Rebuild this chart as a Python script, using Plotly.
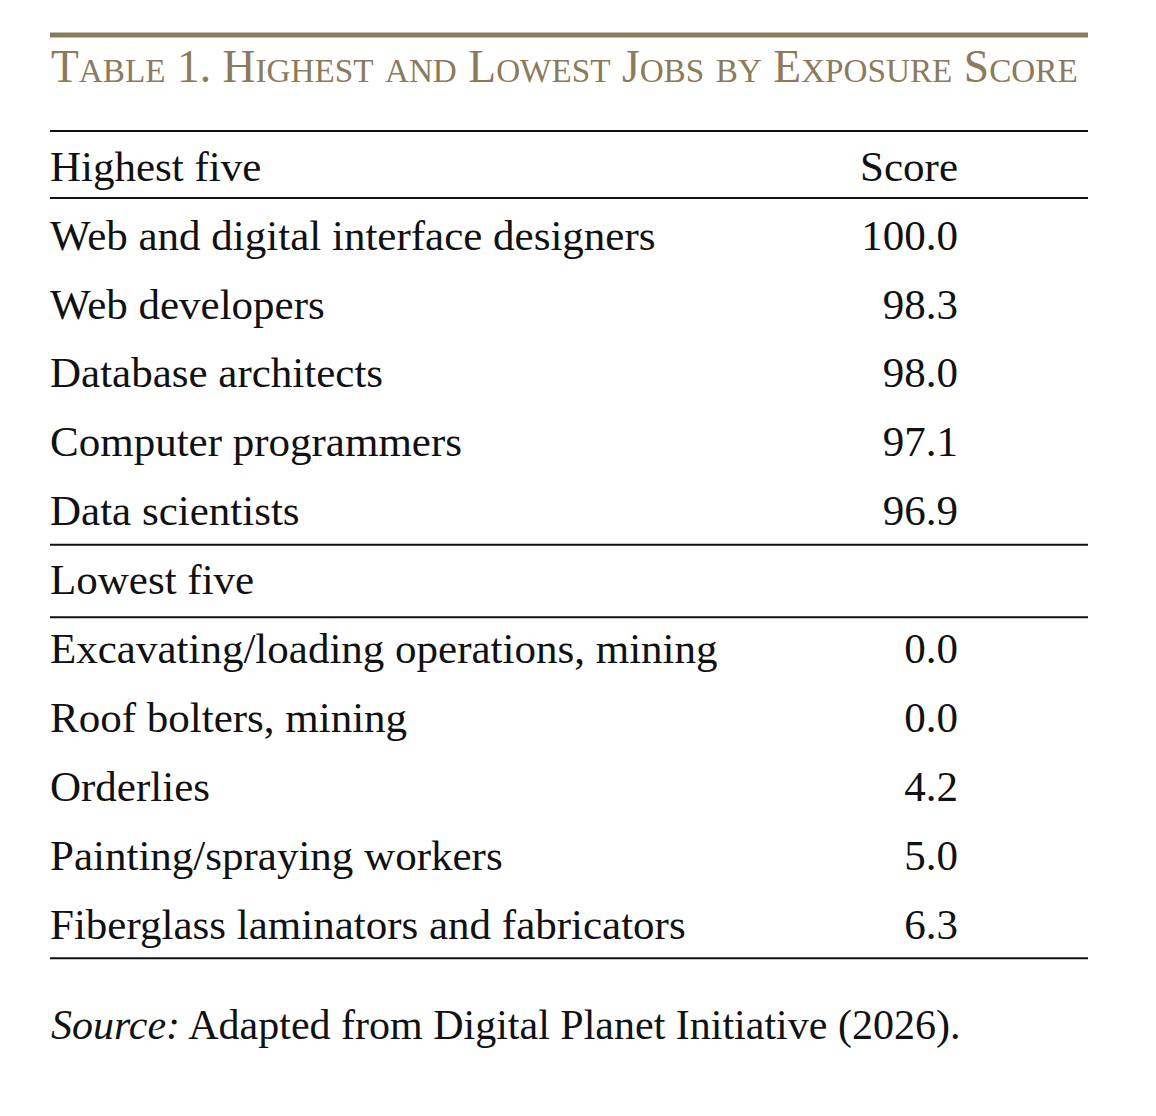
import plotly.graph_objects as go

# table content
title_words = ["Table", "1.", "Highest", "and", "Lowest", "Jobs", "by", "Exposure", "Score"]
header_label = "Highest five"
header_score = "Score"
high_jobs = ["Web and digital interface designers", "Web developers", "Database architects",
             "Computer programmers", "Data scientists"]
high_scores = [100.0, 98.3, 98.0, 97.1, 96.9]
low_label = "Lowest five"
low_jobs = ["Excavating/loading operations, mining", "Roof bolters, mining", "Orderlies",
            "Painting/spraying workers", "Fiberglass laminators and fabricators"]
low_scores = [0.0, 0.0, 4.2, 5.0, 6.3]
source_note = "Adapted from Digital Planet Initiative (2026)."

FONT = "Liberation Serif"
GOLD = "#8b7a5c"
W, H = 1156, 1116
PAGE_PAD = 8  # default body margin of the html page
row_px = 68.9
top_px = 170 - PAGE_PAD

# rows: 0 header, 1-5 high, 6 lowest header, 7-11 low
labels = [header_label] + high_jobs + [low_label] + low_jobs
label_rows = list(range(len(labels)))
scores = [header_score] + ["%.1f" % v for v in high_scores] + [""] + ["%.1f" % v for v in low_scores]
score_rows = list(range(len(scores)))

x_left = 50
x_right = 958


def small_caps(words, big, small):
    out = []
    for w in words:
        first, rest = w[0], w[1:]
        if w in ("and", "by"):
            first, rest = "", w
        piece = ""
        if first:
            piece += '<span style="font-size:%gpx">%s</span>' % (big, first.upper())
        if rest:
            if rest[0].isdigit() or rest[0] == ".":
                piece += '<span style="font-size:%gpx">%s</span>' % (big, rest.upper())
            else:
                piece += '<span style="font-size:%gpx">%s</span>' % (small, rest.upper())
        out.append(piece)
    return " ".join(out)


fig = go.Figure()
fig.add_trace(go.Scatter(
    x=[x_left] * len(labels), y=label_rows, mode="text", text=labels,
    textposition="middle right", textfont=dict(family=FONT, size=43, color="#111111"),
    hoverinfo="skip", showlegend=False,
))
fig.add_trace(go.Scatter(
    x=[x_right] * len(scores), y=score_rows, mode="text", text=scores,
    textposition="middle left", textfont=dict(family=FONT, size=43, color="#111111"),
    hoverinfo="skip", showlegend=False,
))

y0 = -top_px / row_px
y1 = (H - top_px) / row_px

rule_rows = [-0.566, 0.406, 5.44, 6.49, 11.44]
for r in rule_rows:
    fig.add_shape(type="line", xref="x", yref="y", x0=50, x1=1088, y0=r, y1=r,
                  line=dict(color="#111111", width=2))
fig.add_shape(type="line", xref="x", yref="y", x0=50, x1=1088, y0=-1.96, y1=-1.96,
              line=dict(color=GOLD, width=5))

fig.add_annotation(x=49, y=-1.5, xref="x", yref="y", xanchor="left", yanchor="middle",
                   showarrow=False, text=small_caps(title_words, 45.5, 33.2),
                   font=dict(family=FONT, size=46, color=GOLD))
fig.add_annotation(x=49, y=12.41, xref="x", yref="y", xanchor="left", yanchor="middle",
                   showarrow=False, text="<i>Source:</i> " + source_note,
                   font=dict(family=FONT, size=42, color="#111111"))

fig.update_xaxes(range=[PAGE_PAD, W + PAGE_PAD], visible=False, fixedrange=True)
fig.update_yaxes(range=[y1, y0], visible=False, fixedrange=True)
fig.update_layout(width=W, height=H, margin=dict(l=0, r=0, t=0, b=0),
                  paper_bgcolor="white", plot_bgcolor="white")

fig.write_html("out.html", config={"displayModeBar": False})
